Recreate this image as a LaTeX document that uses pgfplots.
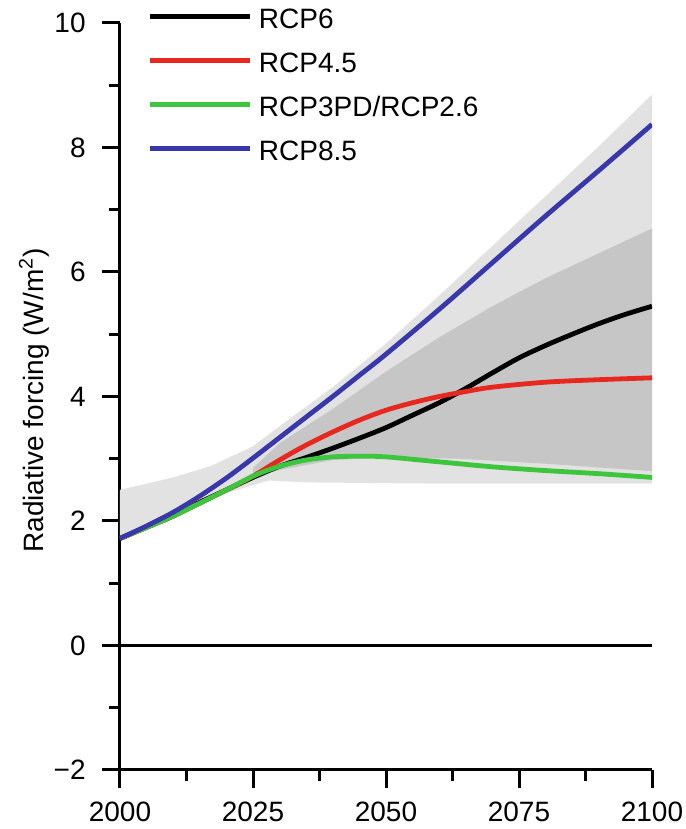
\documentclass[border=0pt]{standalone}
\usepackage{fontspec}
\setmainfont{Liberation Sans}
\usepackage{pgfplots}
\pgfplotsset{compat=1.18}
\definecolor{bandlight}{HTML}{E2E2E2}
\definecolor{banddark}{HTML}{C6C6C6}
\definecolor{rcpred}{HTML}{E6281E}
\definecolor{rcpgreen}{HTML}{3DC63D}
\definecolor{rcpblue}{HTML}{3838AA}
\begin{document}
\begin{tikzpicture}[font=\fontsize{14}{16.8}\selectfont]
\begin{axis}[
  scale only axis, width=266pt, height=373.5pt,
  xmin=2000, xmax=2100, ymin=-2, ymax=10,
  axis x line=bottom, axis y line=left,
  axis line style={-, line width=1.5pt},
  tick align=outside,
  xtick={2000,2025,2050,2075,2100},
  xticklabels={2000,2025,2050,2075,2100},
  minor xtick={2012.5,2037.5,2062.5,2087.5},
  ytick={-2,0,2,4,6,8,10},
  yticklabels={−2,0,2,4,6,8,10},
  minor ytick={-1,1,3,5,7,9},
  major tick length=9pt, minor tick length=5.5pt,
  every tick/.style={black, line width=1.5pt},
  every minor tick/.style={black, line width=1.5pt},
  tick label style={font=\fontsize{14}{16.8}\selectfont},
  x tick label style={anchor=north, inner sep=0pt, yshift=-7pt},
  y tick label style={anchor=east, inner sep=0pt, xshift=-8pt},
  ylabel={Radiative forcing (W/m\textsuperscript{2})},
  ylabel style={at={(axis description cs:-0.1447,0.4946)}, anchor=base, inner sep=0pt},
  legend cell align=left,
  legend image code/.code={\draw[#1, line width=2.5pt] (0pt,5.8pt) -- (50pt,5.8pt);},
  legend style={at={(axis description cs:0.0526,1.0214)}, anchor=north west,
    draw=none, fill=none, inner sep=0pt, outer sep=0pt,
    row sep=11.5pt, column sep=3pt,
    nodes={inner sep=0pt, text height=10.5pt, text depth=0pt, anchor=base west},
    font=\fontsize{14}{16.8}\selectfont},
]
\coordinate (sw) at (rel axis cs:0,0);
% outer (light) range
\addplot[fill=bandlight, draw=none, forget plot] coordinates {
(2000,2.50) (2010,2.70) (2017,2.88) (2025,3.20) (2032,3.65) (2040,4.15)
(2050,4.85) (2060,5.62) (2070,6.42) (2080,7.22) (2090,8.02) (2100,8.85)
(2100,2.60) (2060,2.60) (2035,2.62) (2028,2.65) (2020,2.45) (2010,2.05) (2000,1.70)} -- cycle;
% inner (dark) range
\addplot[fill=banddark, draw=none, forget plot] coordinates {
(2025,2.85) (2030,3.25) (2040,3.80) (2050,4.40) (2060,4.95) (2070,5.45)
(2080,5.90) (2090,6.30) (2100,6.70)
(2100,2.80) (2080,2.92) (2064,3.00) (2050,3.02) (2040,2.98) (2030,2.82) (2025,2.70)} -- cycle;
% zero line
\addplot[black, line width=1.2pt, forget plot] coordinates {(2000,0) (2100,0)};
% RCP6
\addplot[black, line width=2.4pt, smooth] coordinates {
(2000,1.72) (2005,1.90) (2010,2.08) (2015,2.30) (2020,2.50) (2025,2.70)
(2030,2.88) (2035,3.02) (2040,3.17) (2045,3.33) (2050,3.50) (2055,3.70)
(2060,3.90) (2065,4.13) (2070,4.38) (2075,4.62) (2080,4.82) (2085,5.00)
(2090,5.17) (2095,5.32) (2100,5.45)};
\addlegendentry{RCP6}
% RCP4.5
\addplot[rcpred, line width=2.4pt, smooth] coordinates {
(2000,1.72) (2010,2.08) (2020,2.50) (2025,2.72) (2030,2.98) (2035,3.22)
(2040,3.43) (2045,3.62) (2050,3.78) (2055,3.90) (2060,4.00) (2065,4.08)
(2070,4.15) (2080,4.23) (2090,4.27) (2100,4.30)};
\addlegendentry{RCP4.5}
% RCP3PD/RCP2.6
\addplot[rcpgreen, line width=2.4pt, smooth] coordinates {
(2000,1.72) (2010,2.08) (2020,2.50) (2025,2.72) (2030,2.88) (2035,2.98)
(2040,3.03) (2045,3.04) (2050,3.03) (2060,2.95) (2070,2.87) (2080,2.81)
(2090,2.76) (2100,2.70)};
\addlegendentry{RCP3PD/RCP2.6}
% RCP8.5
\addplot[rcpblue, line width=2.4pt, smooth] coordinates {
(2000,1.72) (2005,1.92) (2010,2.14) (2015,2.40) (2020,2.69) (2025,3.01)
(2030,3.34) (2035,3.67) (2040,4.00) (2045,4.34) (2050,4.68) (2060,5.40)
(2070,6.15) (2080,6.90) (2090,7.63) (2100,8.37)};
\addlegendentry{RCP8.5}
\end{axis}
\pgfresetboundingbox
\path[use as bounding box] (sw) ++(-60pt,-29.5pt) rectangle ++(342.5pt,414.5pt);
\end{tikzpicture}
\end{document}
